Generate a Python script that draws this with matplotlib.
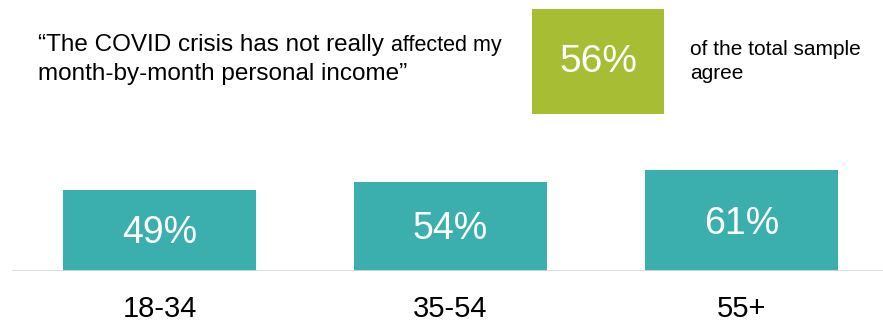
import matplotlib
matplotlib.use("Agg")
import matplotlib.pyplot as plt
from matplotlib.transforms import offset_copy

plt.rcParams['font.family'] = ['Liberation Sans', 'DejaVu Sans']

# data
groups = ['18-34', '35-54', '55+']
agree = [49, 54, 61]
total_agree = 56

teal = '#3BAFAD'
green = '#A6BD34'

W, H = 883, 321
fig = plt.figure(figsize=(W / 100, H / 100), dpi=100)

# bars
ax = fig.add_axes([0, 50 / H, 1, 121 / H])
pos = list(range(len(groups)))
ax.bar(pos, agree, width=0.663, color=teal, zorder=2)
ax.set_xlim(-0.548, -0.548 + W / 291)
ax.set_ylim(0, 121 / 1.655)
ax.axhline(0, xmin=13 / W, xmax=1, color='#D9D9D9', lw=2, zorder=3)
lbl_tr = offset_copy(ax.transData, fig=fig, y=-3, units='dots')
for x, v in zip(pos, agree):
    ax.text(x, v / 2, f'{v}%', ha='center', va='center', color='white', fontsize=27,
            zorder=4, transform=lbl_tr)
ax.set_xticks(pos)
ax.set_xticklabels(groups, fontsize=21)
ax.tick_params(axis='x', length=0, pad=17)
ax.set_yticks([])
for s in ax.spines.values():
    s.set_visible(False)
ax.patch.set_alpha(0)

# total sample box
bx = fig.add_axes([532 / W, (H - 114) / H, 132 / W, 105 / H])
bx.set_facecolor(green)
bx.set_xticks([])
bx.set_yticks([])
for s in bx.spines.values():
    s.set_visible(False)
bx.text(0.5, 0.5, f'{total_agree}%', ha='center', va='center', color='white', fontsize=28,
        transform=bx.transAxes)

# quote
t1 = fig.text(38 / W, (H - 51) / H, '\u201cThe COVID crisis has not really ', fontsize=17.5,
              va='baseline', ha='left')
fig.canvas.draw()
bb = t1.get_window_extent()
fig.text(bb.x1 / W, (H - 51) / H, 'affected my', fontsize=15.5, va='baseline', ha='left')
fig.text(38 / W, (H - 80) / H, 'month-by-month personal income\u201d', fontsize=17.5,
         va='baseline', ha='left')

fig.text(690 / W, (H - 55) / H, 'of the total sample', fontsize=15, va='baseline', ha='left')
fig.text(690 / W, (H - 79) / H, 'agree', fontsize=15, va='baseline', ha='left')

fig.savefig('out.png', dpi=100)
